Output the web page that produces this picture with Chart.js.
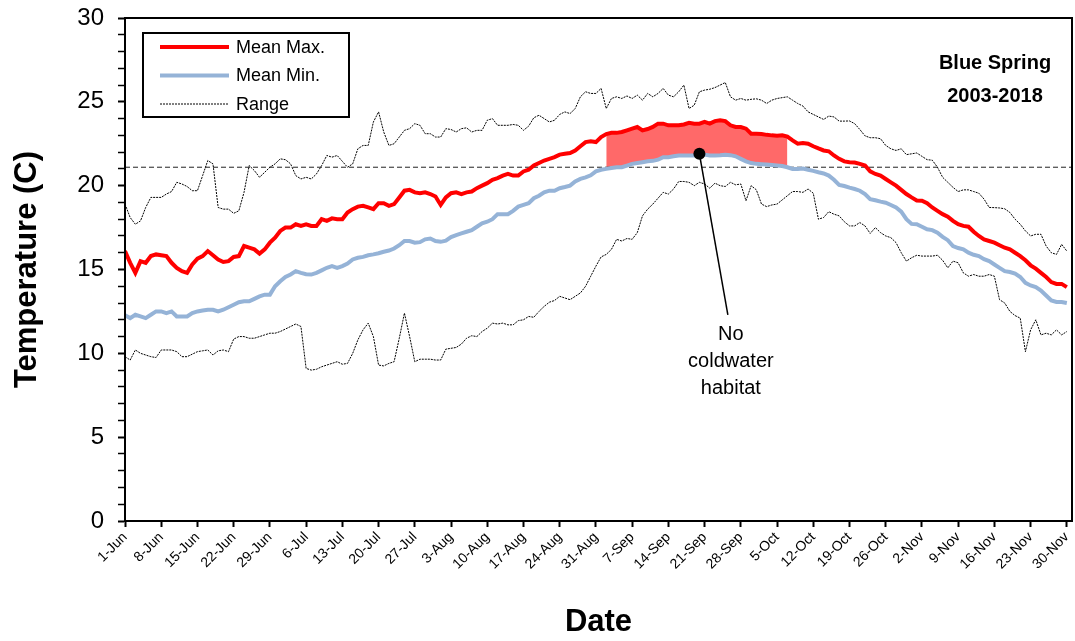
<!DOCTYPE html>
<html lang="en">
<head>
  <meta charset="UTF-8">
  <title>Blue Spring 2003-2018 Temperature</title>
  <style>
    html, body {
      margin: 0;
      padding: 0;
      background: #fff;
    }
    .chart-box {
      width: 1075px;
      height: 641px;
    }
  </style>
  <script src="https://cdn.jsdelivr.net/npm/chart.js"></script>
</head>
<body>
  <div class="chart-box">
    <canvas id="tempChart" width="1075" height="641"></canvas>
  </div>

  <script>
    // daily values, 1-Jun (day 0) to 30-Nov (day 182)
    const meanMax = [
      16.1, 15.4, 14.8, 15.5, 15.4, 15.8, 15.9, 15.85, 15.8, 15.4,
      15.1, 14.9, 14.8, 15.3, 15.65, 15.8, 16.1, 15.85, 15.6, 15.45,
      15.5, 15.75, 15.8, 16.4, 16.3, 16.2, 15.95, 16.2, 16.6, 16.9,
      17.3, 17.5, 17.5, 17.7, 17.6, 17.7, 17.6, 17.6, 18.0, 17.9,
      18.05, 18.0, 18.0, 18.4, 18.6, 18.75, 18.8, 18.7, 18.6, 18.95,
      18.95, 18.8, 18.9, 19.3, 19.7, 19.75, 19.6, 19.55, 19.6, 19.5,
      19.35, 18.85, 19.3, 19.55, 19.6, 19.5, 19.6, 19.65, 19.85, 20.0,
      20.15, 20.35, 20.45, 20.6, 20.7, 20.6, 20.6, 20.85, 20.95, 21.2,
      21.35, 21.5, 21.6, 21.7, 21.85, 21.9, 21.95, 22.1, 22.35, 22.6,
      22.65, 22.6, 22.9, 23.08, 23.15, 23.15, 23.2, 23.3, 23.4, 23.5,
      23.3, 23.38, 23.5, 23.7, 23.7, 23.6, 23.6, 23.6, 23.65, 23.75,
      23.7, 23.7, 23.8, 23.7, 23.85, 23.9, 23.85, 23.6, 23.5, 23.5,
      23.4, 23.1, 23.1, 23.08, 23.03, 23.0, 22.98, 23.0, 22.93, 22.7,
      22.5, 22.55, 22.5, 22.35, 22.22, 22.1, 22.05, 21.8, 21.6, 21.45,
      21.4, 21.38, 21.3, 21.2, 20.85, 20.7, 20.6, 20.4, 20.2, 20.0,
      19.75, 19.5, 19.3, 19.12, 19.1, 18.95, 18.7, 18.5, 18.3, 18.15,
      17.9, 17.7, 17.6, 17.55, 17.25, 17.0, 16.8, 16.7, 16.6, 16.45,
      16.3, 16.2, 16.0, 15.8, 15.55, 15.25, 15.05, 14.8, 14.55, 14.25,
      14.14, 14.14, 13.95
    ];
    const meanMin = [
      12.27, 12.1, 12.3, 12.2, 12.1, 12.3, 12.5, 12.5, 12.4, 12.5,
      12.2, 12.2, 12.2, 12.4, 12.5, 12.55, 12.6, 12.6, 12.5, 12.6,
      12.75, 12.9, 13.05, 13.1, 13.1, 13.25, 13.4, 13.5, 13.5, 14.0,
      14.3, 14.55, 14.7, 14.9, 14.8, 14.72, 14.7, 14.8, 14.95, 15.1,
      15.2, 15.1, 15.2, 15.35, 15.6, 15.7, 15.75, 15.85, 15.9, 15.97,
      16.06, 16.13, 16.25, 16.45, 16.7, 16.7, 16.6, 16.63, 16.8, 16.85,
      16.7, 16.65, 16.72, 16.93, 17.05, 17.15, 17.25, 17.35, 17.55, 17.75,
      17.85, 18.0, 18.3, 18.3, 18.3, 18.5, 18.75, 18.85, 18.95, 19.25,
      19.4, 19.6, 19.7, 19.7, 19.85, 19.92, 20.0, 20.25, 20.4, 20.5,
      20.62, 20.85, 20.95, 21.0, 21.05, 21.1, 21.1, 21.2, 21.3, 21.35,
      21.4, 21.45, 21.48, 21.55, 21.7, 21.7, 21.75, 21.8, 21.8, 21.8,
      21.8, 21.85, 21.85, 21.8, 21.8, 21.82, 21.85, 21.82, 21.75, 21.6,
      21.45, 21.35, 21.3, 21.28, 21.26, 21.23, 21.2, 21.17, 21.1, 21.0,
      21.0, 21.02, 20.95, 20.88, 20.8, 20.73, 20.6, 20.35, 20.05, 19.98,
      19.88, 19.8, 19.7, 19.5, 19.2, 19.13, 19.05, 18.98, 18.85, 18.7,
      18.45, 18.0, 17.72, 17.7, 17.55, 17.4, 17.35, 17.2, 16.95, 16.75,
      16.4, 16.28, 16.2, 16.0, 15.88, 15.8, 15.62, 15.5, 15.3, 15.1,
      14.9, 14.85, 14.75, 14.55, 14.2, 14.05, 13.95, 13.75, 13.45, 13.15,
      13.06, 13.06, 13.0
    ];
    const rangeHigh = [
      18.9, 18.1, 17.7, 17.9, 18.7, 19.3, 19.3, 19.3, 19.5, 19.65,
      20.2, 20.1, 19.95, 19.7, 19.7, 20.6, 21.5, 21.3, 18.7, 18.6,
      18.6, 18.35, 18.5, 19.6, 21.2, 20.9, 20.5, 20.8, 21.1, 21.3,
      21.6, 21.55, 21.3, 20.6, 20.4, 20.5, 20.4, 20.7, 21.2, 21.8,
      21.7, 21.8, 21.45, 21.1, 21.3, 22.2, 22.4, 22.4, 23.8, 24.4,
      23.2, 22.4, 22.5, 22.9, 23.3, 23.4, 23.7, 23.6, 23.1, 23.1,
      22.9, 22.9, 23.4, 23.35, 23.2, 23.4, 23.45, 23.2, 23.3, 23.3,
      23.9, 24.0, 23.6, 23.6, 23.6, 23.65, 23.6, 23.3, 23.55, 24.05,
      24.2, 24.0, 23.8, 23.9, 24.25, 24.4, 24.3, 24.6, 25.3, 25.6,
      25.5, 25.5, 25.8, 24.6, 25.2, 25.3, 25.2, 25.35, 25.2, 25.4,
      25.1, 25.5, 25.3, 25.5, 25.8, 25.4, 25.3, 25.6, 26.0, 24.6,
      24.8, 25.6, 25.7, 25.75, 25.85, 26.0, 26.15, 25.3, 25.1, 25.2,
      25.1, 25.15, 25.18, 25.1, 24.9, 25.1, 25.2, 25.25, 25.3, 25.1,
      24.9, 24.75, 24.4, 24.25, 24.1, 23.95, 24.15, 24.1, 23.85, 23.85,
      23.86, 23.7, 23.35, 22.97, 22.86, 22.86, 22.8, 22.4, 22.2, 22.1,
      22.2, 21.85, 21.9, 21.95, 21.75, 21.55, 21.52, 21.1, 20.5, 20.2,
      19.9, 19.65, 19.75, 19.75, 19.65, 19.55, 19.2, 18.7, 18.69, 18.67,
      18.62, 18.4, 18.0, 17.7, 17.3, 17.0, 17.1, 17.1, 16.4, 16.0,
      15.9, 16.5, 16.1
    ];
    const rangeLow = [
      9.8, 9.6, 10.2, 10.0, 9.9, 9.8, 9.75, 10.2, 10.2, 10.2,
      10.1, 9.8, 9.8, 9.95, 10.1, 10.15, 10.2, 9.9, 10.15, 10.2,
      10.1, 10.85, 11.0, 11.0, 10.9, 10.9, 11.0, 11.1, 11.2, 11.2,
      11.3, 11.45, 11.6, 11.75, 11.6, 9.1, 9.0, 9.05, 9.2, 9.3,
      9.4, 9.5, 9.35, 9.4, 10.0, 10.8, 11.4, 11.8, 11.0, 9.3,
      9.25, 9.4, 9.5, 10.9, 12.4, 11.0, 9.5, 9.65, 9.65, 9.65,
      9.6, 9.6, 10.25, 10.3, 10.35, 10.55, 10.9, 11.05, 11.0, 11.3,
      11.5, 11.8, 11.75, 11.8, 11.7, 11.7, 11.95, 12.0, 12.2, 12.15,
      12.5, 12.8, 13.05, 13.15, 13.4, 13.3, 13.2, 13.4, 13.6, 14.0,
      14.6, 15.2, 15.75, 15.9, 16.2, 16.8, 16.7, 16.85, 16.8, 17.2,
      18.2, 18.6, 18.9, 19.25, 19.6, 19.5, 19.8, 20.25, 20.25, 20.2,
      20.0, 20.2, 20.1, 19.85, 20.15, 20.0, 19.95, 20.2, 20.05, 20.1,
      19.1, 20.0, 19.75, 18.9, 18.75, 18.85, 18.9, 19.15, 19.4, 19.65,
      19.65, 19.6, 19.8, 19.55, 18.0, 18.1, 18.45, 18.3, 18.2, 17.85,
      17.6, 17.6, 17.8, 17.6, 17.15, 17.5, 17.2, 17.0, 16.9, 16.6,
      16.0, 15.5, 15.7, 15.85, 15.8, 15.8, 15.8, 15.85, 15.55, 15.1,
      15.5, 15.4, 14.8, 14.6, 14.7, 14.6, 14.6, 14.7, 14.6, 13.2,
      13.0, 12.5, 12.25, 12.1, 10.1, 11.4, 12.0, 11.1, 11.2, 11.1,
      11.4, 11.1, 11.3
    ];

    const tickLabels = [
      '1-Jun', '8-Jun', '15-Jun', '22-Jun', '29-Jun', '6-Jul', '13-Jul',
      '20-Jul', '27-Jul', '3-Aug', '10-Aug', '17-Aug', '24-Aug', '31-Aug',
      '7-Sep', '14-Sep', '21-Sep', '28-Sep', '5-Oct', '12-Oct', '19-Oct',
      '26-Oct', '2-Nov', '9-Nov', '16-Nov', '23-Nov', '30-Nov'
    ];

    const coldwaterLimit = 21.1;     // 70 F
    const habitatDays = [93, 128];   // shaded stretch
    const notePoint = { day: 111, temp: 21.9 };
    const noteEnd = { day: 116.5, temp: 12.3 };
    const noteLines = ['No', 'coldwater', 'habitat'];
    const siteLines = ['Blue Spring', '2003-2018'];

    const FONT = "'Liberation Sans', Arial, sans-serif";

    const toPoints = arr => arr.map((v, i) => ({ x: i, y: v }));
    const inHabitat = i => i >= habitatDays[0] && i <= habitatDays[1];

    const habitatTop = toPoints(meanMax).filter(p => inHabitat(p.x));
    const habitatBase = meanMin
      .map((v, i) => ({ x: i, y: Math.max(v, coldwaterLimit) }))
      .filter(p => inHabitat(p.x));

    // legend box, site name, annotation and frame
    const decorations = {
      id: 'decorations',
      afterDraw(chart) {
        const { ctx, chartArea: area, scales: { x, y } } = chart;
        ctx.save();

        ctx.strokeStyle = '#000';
        ctx.lineWidth = 2;
        ctx.strokeRect(area.left, area.top, area.width, area.height);

        // legend
        const lx = area.left + 18, ly = area.top + 15;
        ctx.lineWidth = 2;
        ctx.strokeRect(lx, ly, 206, 84);
        const items = [
          { text: 'Mean Max.', color: '#ff0000', width: 4, dash: [] },
          { text: 'Mean Min.', color: '#95b3d7', width: 4, dash: [] },
          { text: 'Range', color: '#000', width: 1, dash: [2, 1] }
        ];
        ctx.font = '18px ' + FONT;
        ctx.textBaseline = 'middle';
        ctx.textAlign = 'left';
        items.forEach((it, k) => {
          const yy = ly + 14 + k * 28.5;
          ctx.beginPath();
          ctx.setLineDash(it.dash);
          ctx.strokeStyle = it.color;
          ctx.lineWidth = it.width;
          ctx.moveTo(lx + 17, yy);
          ctx.lineTo(lx + 86, yy);
          ctx.stroke();
          ctx.setLineDash([]);
          ctx.fillStyle = '#000';
          ctx.fillText(it.text, lx + 93, yy + 1);
        });

        // site title
        ctx.font = 'bold 20px ' + FONT;
        ctx.textAlign = 'center';
        ctx.textBaseline = 'alphabetic';
        ctx.fillStyle = '#000';
        siteLines.forEach((t, k) => ctx.fillText(t, area.right - 77, area.top + 51 + k * 33));

        // annotation
        const px = x.getPixelForValue(notePoint.day), py = y.getPixelForValue(notePoint.temp);
        const ex = x.getPixelForValue(noteEnd.day), ey = y.getPixelForValue(noteEnd.temp);
        ctx.strokeStyle = '#000';
        ctx.lineWidth = 1.5;
        ctx.beginPath();
        ctx.moveTo(px, py);
        ctx.lineTo(ex, ey);
        ctx.stroke();
        ctx.beginPath();
        ctx.arc(px, py, 6, 0, Math.PI * 2);
        ctx.fill();
        ctx.font = '20px ' + FONT;
        noteLines.forEach((t, k) => ctx.fillText(t, ex + 3, ey + 25 + k * 27));

        ctx.restore();
      }
    };

    const ctx = document.getElementById('tempChart').getContext('2d');
    new Chart(ctx, {
      type: 'line',
      data: {
        datasets: [
          { label: 'Mean Max.', data: toPoints(meanMax), borderColor: '#ff0000', borderWidth: 4, order: 0 },
          { label: 'Mean Min.', data: toPoints(meanMin), borderColor: '#95b3d7', borderWidth: 4, order: 1 },
          { label: 'Range', data: toPoints(rangeHigh), borderColor: '#000', borderWidth: 1, borderDash: [2, 1], order: 2 },
          { label: 'Range low', data: toPoints(rangeLow), borderColor: '#000', borderWidth: 1, borderDash: [2, 1], order: 2 },
          {
            label: 'Limit',
            data: [{ x: 0, y: coldwaterLimit }, { x: 183, y: coldwaterLimit }],
            borderColor: '#222', borderWidth: 1, borderDash: [5, 3], order: 3
          },
          {
            label: 'No habitat', data: habitatTop, borderWidth: 0, borderColor: 'rgba(0,0,0,0)',
            backgroundColor: 'rgb(255,105,105)', fill: '+1', order: 4
          },
          { label: 'base', data: habitatBase, borderWidth: 0, borderColor: 'rgba(0,0,0,0)', order: 5 }
        ]
      },
      options: {
        responsive: false,
        animation: false,
        devicePixelRatio: 1,
        layout: { padding: { top: 18, right: 3, left: 0, bottom: 0 } },
        elements: {
          point: { radius: 0 },
          line: { tension: 0, fill: false }
        },
        plugins: {
          legend: { display: false },
          tooltip: { enabled: false }
        },
        scales: {
          x: {
            type: 'linear',
            min: 0,
            max: 183,
            afterFit: s => {
              s.height = 120;
              s.paddingLeft = 0;
              s.paddingRight = 0;
            },
            border: { color: '#000', width: 2 },
            grid: { drawOnChartArea: false, tickLength: 6, tickColor: '#000', tickWidth: 2 },
            ticks: {
              stepSize: 7,
              includeBounds: false,
              autoSkip: false,
              maxRotation: 45,
              minRotation: 45,
              padding: 2,
              color: '#000',
              font: { family: FONT, size: 14 },
              callback: v => tickLabels[Math.round(v / 7)]
            },
            title: {
              display: true,
              text: 'Date',
              color: '#000',
              font: { family: FONT, size: 31, weight: 'bold' },
              padding: { top: 0, bottom: 0 }
            }
          },
          y: {
            min: 0,
            max: 30,
            afterFit: s => {
              s.width = 125;
              s.paddingTop = 0;
              s.paddingBottom = 0;
            },
            border: { color: '#000', width: 2 },
            grid: {
              drawOnChartArea: false,
              tickLength: 7,
              tickColor: '#000',
              tickWidth: c => (c.tick && c.tick.value % 5 === 0 ? 2 : 1.5)
            },
            ticks: {
              stepSize: 1,
              autoSkip: false,
              padding: 14,
              color: '#000',
              font: { family: FONT, size: 24 },
              callback: v => (v % 5 === 0 ? String(v) : '')
            },
            title: {
              display: true,
              text: 'Temperature (C)',
              color: '#000',
              font: { family: FONT, size: 31, weight: 'bold' },
              padding: { top: 9, bottom: 0 }
            }
          }
        }
      },
      plugins: [decorations]
    });
  </script>
</body>
</html>
